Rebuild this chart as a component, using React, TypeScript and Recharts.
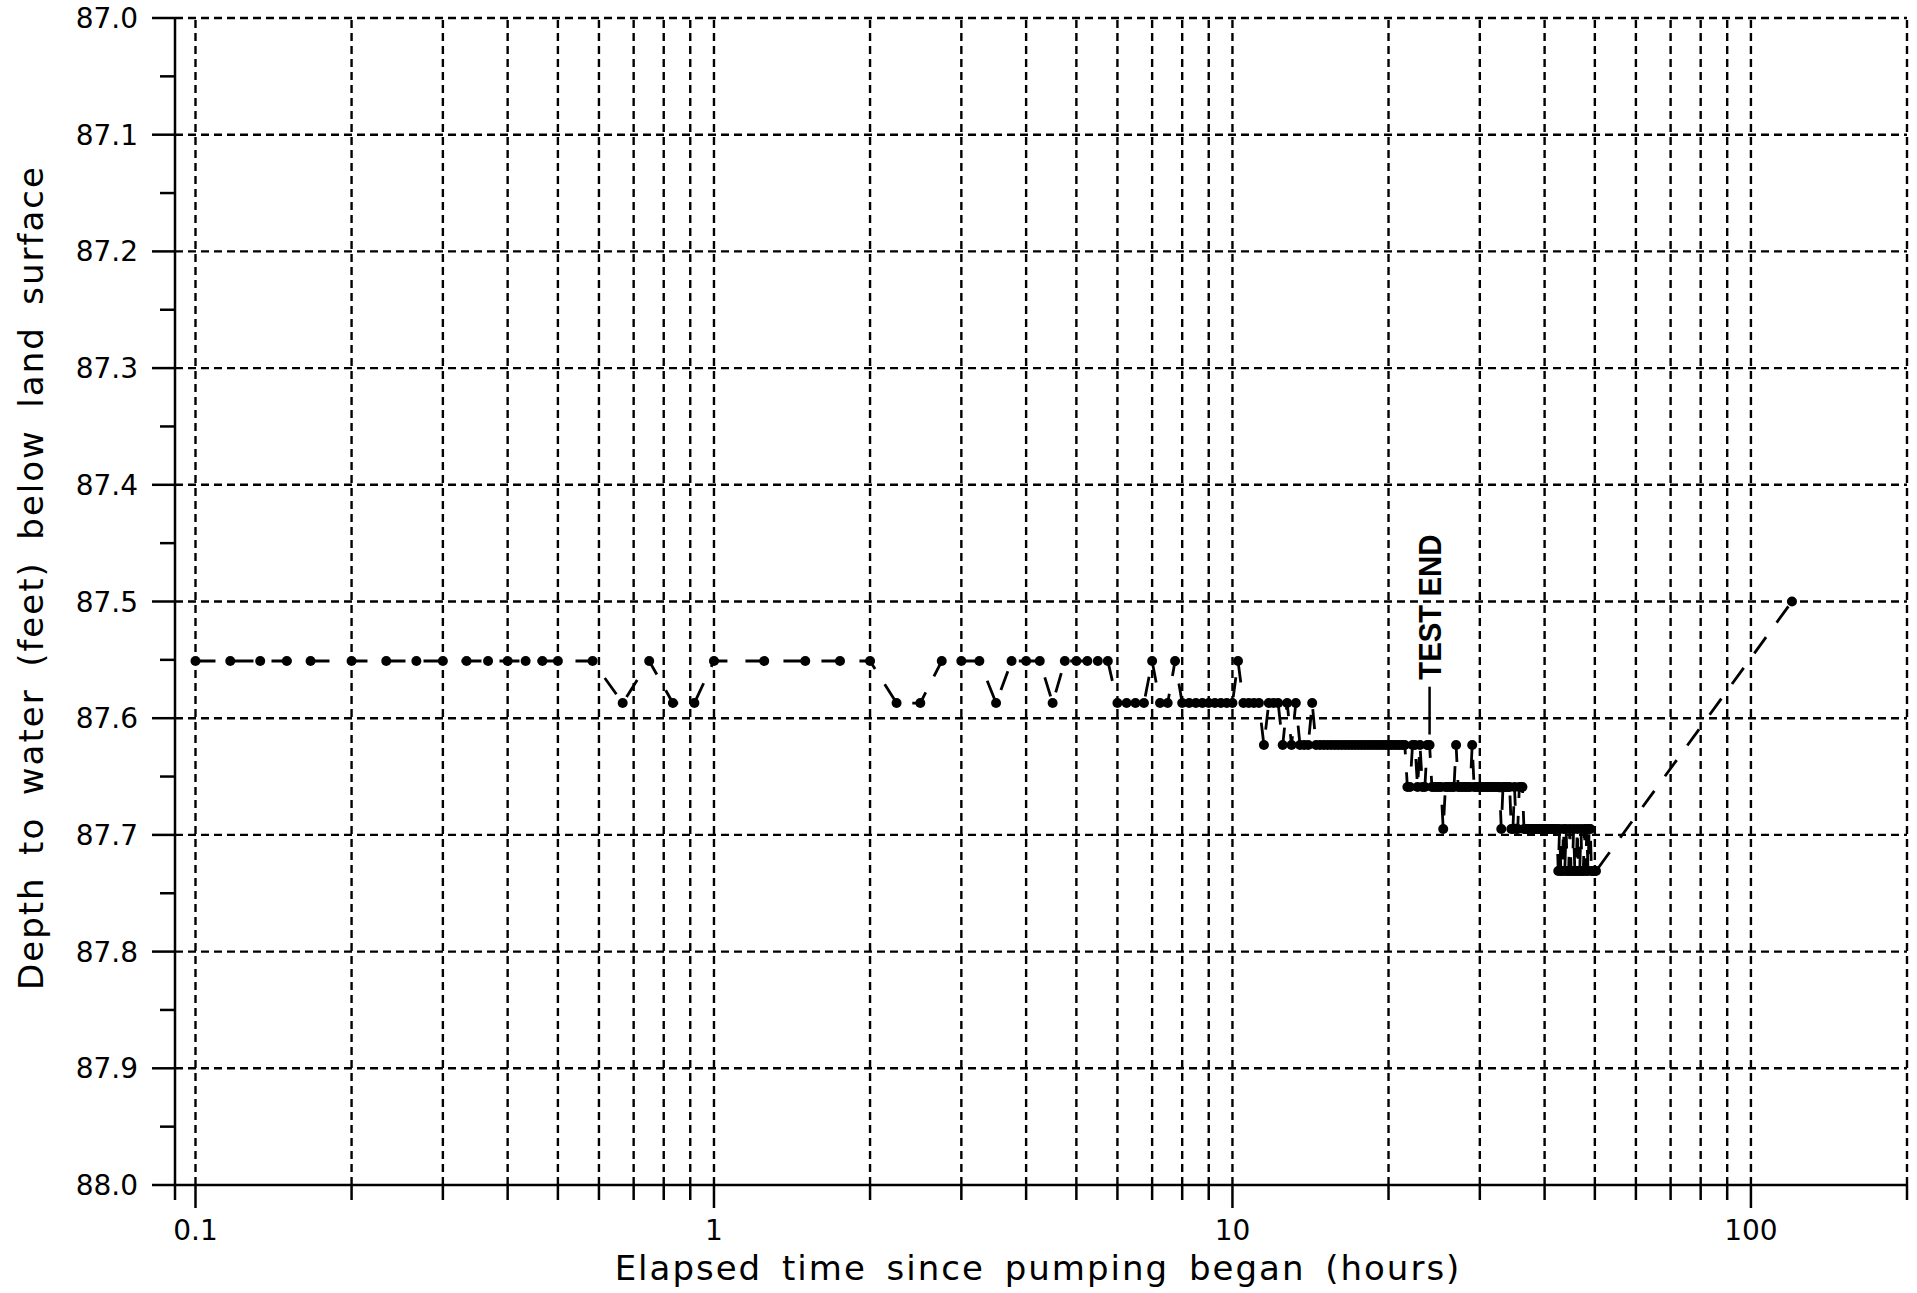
import React from 'react';
import { LineChart, Line, XAxis, YAxis, ReferenceLine, ReferenceDot, Label } from 'recharts';

// ---- data (elapsed hours, depth to water in feet) ----
const hoursEarly = [0.1, 0.1167, 0.1333, 0.15, 0.1667, 0.2, 0.2333, 0.2667, 0.3, 0.3333, 0.3667, 0.4, 0.4333, 0.4667, 0.5, 0.5833, 0.6667, 0.75, 0.8333, 0.9167, 1.0];
const depthEarly = [87.551, 87.551, 87.551, 87.551, 87.551, 87.551, 87.551, 87.551, 87.551, 87.551, 87.551, 87.551, 87.551, 87.551, 87.551, 87.551, 87.587, 87.551, 87.587, 87.587, 87.551];

const hoursMid = [1.25, 1.5, 1.75, 2, 2.25, 2.5, 2.75, 3, 3.25, 3.5, 3.75, 4, 4.25, 4.5, 4.75, 5, 5.25, 5.5, 5.75, 6, 6.25, 6.5, 6.75, 7, 7.25, 7.5, 7.75, 8, 8.25, 8.5, 8.75, 9, 9.25, 9.5, 9.75, 10];
const depthMid = [87.551, 87.551, 87.551, 87.551, 87.587, 87.587, 87.551, 87.551, 87.551, 87.587, 87.551, 87.551, 87.551, 87.587, 87.551, 87.551, 87.551, 87.551, 87.551, 87.587, 87.587, 87.587, 87.587, 87.551, 87.587, 87.587, 87.551, 87.587, 87.587, 87.587, 87.587, 87.587, 87.587, 87.587, 87.587, 87.587];

const hoursLate1 = [10.25, 10.5, 10.75, 11, 11.25, 11.5, 11.75, 12, 12.25, 12.5, 12.75, 13, 13.25, 13.5, 13.75, 14, 14.25, 14.5, 14.75, 15, 15.25, 15.5, 15.75, 16, 16.25, 16.5, 16.75, 17, 17.25, 17.5, 17.75, 18, 18.25, 18.5, 18.75, 19, 19.25, 19.5, 19.75, 20, 20.25, 20.5, 20.75, 21, 21.25, 21.5];
const depthLate1 = [87.551, 87.587, 87.587, 87.587, 87.587, 87.623, 87.587, 87.587, 87.587, 87.623, 87.587, 87.623, 87.587, 87.623, 87.623, 87.623, 87.587,
  87.623, 87.623, 87.623, 87.623, 87.623, 87.623, 87.623, 87.623, 87.623, 87.623, 87.623, 87.623, 87.623, 87.623, 87.623, 87.623, 87.623, 87.623, 87.623, 87.623, 87.623, 87.623, 87.623, 87.623, 87.623, 87.623, 87.623, 87.623, 87.623];

const hoursLate2 = [21.75, 22, 22.25, 22.5, 22.75, 23, 23.25, 23.5, 23.75, 24, 24.25, 24.5, 24.75, 25, 25.25, 25.5, 25.75, 26, 26.25, 26.5, 26.75, 27, 27.25, 27.5, 27.75, 28, 28.25, 28.5, 28.75, 29, 29.25, 29.5, 29.75, 30, 30.25, 30.5, 30.75, 31, 31.25, 31.5, 31.75, 32, 32.25, 32.5, 32.75, 33, 33.25, 33.5, 33.75, 34, 34.25, 34.5, 34.75, 35, 35.25, 35.5, 35.75, 36, 36.25, 36.5];
const depthLate2 = [87.659, 87.659, 87.623, 87.623, 87.659, 87.623, 87.659, 87.659, 87.623, 87.623, 87.659, 87.659, 87.659, 87.659, 87.659, 87.695, 87.659, 87.659, 87.659, 87.659, 87.659, 87.623, 87.659,
  87.659, 87.659, 87.659, 87.659, 87.659, 87.659, 87.623,
  87.659, 87.659, 87.659, 87.659, 87.659, 87.659, 87.659, 87.659, 87.659, 87.659, 87.659, 87.659, 87.659, 87.659, 87.659,
  87.695, 87.659, 87.659, 87.659, 87.659, 87.659, 87.695, 87.695, 87.659, 87.695, 87.695, 87.659, 87.659, 87.659, 87.695];

const hoursLate3 = [36.75, 37, 37.25, 37.5, 37.75, 38, 38.25, 38.5, 38.75, 39, 39.25, 39.5, 39.75, 40, 40.25, 40.5, 40.75, 41, 41.25, 41.5, 41.75, 42, 42.25,
  42.5, 42.75, 43, 43.25, 43.5, 43.75, 44, 44.25, 44.5, 44.75, 45, 45.25, 45.5, 45.75, 46, 46.25, 46.5, 46.75, 47, 47.25, 47.5, 47.75, 48, 48.25, 48.5, 48.75, 49, 49.25, 49.5, 49.75, 50, 50.25];
const depthLate3 = [87.695, 87.695, 87.695, 87.695, 87.695, 87.695, 87.695, 87.695, 87.695, 87.695, 87.695, 87.695, 87.695, 87.695, 87.695, 87.695, 87.695, 87.695, 87.695, 87.695, 87.695, 87.695, 87.695,
  87.731, 87.695, 87.731, 87.731, 87.695, 87.731, 87.695, 87.731, 87.731, 87.695, 87.731, 87.731, 87.695, 87.731, 87.731, 87.695, 87.731, 87.731, 87.695, 87.731, 87.731, 87.695, 87.731, 87.695, 87.731, 87.695, 87.695, 87.731, 87.731, 87.731, 87.731, 87.731];

const hoursRecovery = [120];
const depthRecovery = [87.5];

// ---- axes ----
const xDomain = [0.0913, 200];
const xTicks = [0.0913, 0.1, 0.2, 0.3, 0.4, 0.5, 0.6, 0.7, 0.8, 0.9, 1, 2, 3, 4, 5, 6, 7, 8, 9, 10, 20, 30, 40, 50, 60, 70, 80, 90, 100, 200];
const xLabelTicks = [0.1, 1, 10, 100];
const xGrid = [0.1, 0.2, 0.3, 0.4, 0.5, 0.6, 0.7, 0.8, 0.9, 1, 2, 3, 4, 5, 6, 7, 8, 9, 10, 20, 30, 40, 50, 60, 70, 80, 90, 100, 200];
const yTicks = [87.0, 87.05, 87.1, 87.15, 87.2, 87.25, 87.3, 87.35, 87.4, 87.45, 87.5, 87.55, 87.6, 87.65, 87.7, 87.75, 87.8, 87.85, 87.9, 87.95, 88.0];
const yGrid = [87.0, 87.1, 87.2, 87.3, 87.4, 87.5, 87.6, 87.7, 87.8, 87.9];

const testEndHour = 24;

const allHours = [...hoursEarly, ...hoursMid, ...hoursLate1, ...hoursLate2, ...hoursLate3, ...hoursRecovery];
const allDepth = [...depthEarly, ...depthMid, ...depthLate1, ...depthLate2, ...depthLate3, ...depthRecovery];
const rows = allHours.map((h, i) => ({ hours: h, depth: allDepth[i] }));

const FONT = '"DejaVu Sans", Verdana, sans-serif';
const BOLD_FONT = '"Liberation Sans", Arial, Helvetica, sans-serif';

function XTick(props: any) {
  const { x, y, payload } = props;
  const v = payload.value;
  const major = xLabelTicks.some((t) => Math.abs(t - v) < 1e-9);
  const len = major ? 23 : 15;
  return (
    <g>
      <line x1={x} x2={x} y1={y} y2={y + len} stroke="#000" strokeWidth={2.5} />
      {major && (
        <text x={x} y={y + 55} textAnchor="middle" fontSize={28} fontFamily={FONT} fill="#000">
          {String(v)}
        </text>
      )}
    </g>
  );
}

function YTick(props: any) {
  const { x, y, payload } = props;
  const v = payload.value;
  const major = Math.abs(v * 10 - Math.round(v * 10)) < 1e-6;
  const len = major ? 23 : 15;
  return (
    <g>
      <line x1={x - len} x2={x} y1={y} y2={y} stroke="#000" strokeWidth={2.5} />
      {major && (
        <text x={x - 37} y={y + 10} textAnchor="end" fontSize={28} fontFamily={FONT} fill="#000">
          {v.toFixed(1)}
        </text>
      )}
    </g>
  );
}

const renderDot = (p: any) => <circle key={`d${p.index}`} cx={p.cx} cy={p.cy} r={5} fill="#000" />;

export default function App() {
  return (
    <div style={{ width: 1917, height: 1293, background: '#fff' }}>
      <style>{'html,body{margin:0;padding:0;overflow:hidden;background:#fff}'}</style>
      <LineChart width={1917} height={1293} data={rows} margin={{ top: 18, right: 10, bottom: 48, left: 15 }}>
        {xGrid.map((v) => (
          <ReferenceLine key={`gx${v}`} x={v} stroke="#000" strokeWidth={2.4} strokeDasharray="8 5" />
        ))}
        {yGrid.map((v) => (
          <ReferenceLine key={`gy${v}`} y={v} stroke="#000" strokeWidth={2.4} strokeDasharray="8 5" />
        ))}
        <XAxis
          dataKey="hours"
          type="number"
          scale="log"
          domain={xDomain}
          allowDataOverflow
          ticks={xTicks}
          interval={0}
          tick={<XTick />}
          tickLine={false}
          tickSize={0}
          tickMargin={0}
          height={60}
          axisLine={{ stroke: '#000', strokeWidth: 2.5 }}
        >
          <Label
            content={(p: any) => {
              const vb = p.viewBox || { x: 175, y: 1185, width: 1732, height: 60 };
              return (
                <text x={vb.x + vb.width / 2 - 3} y={vb.y + 95} textAnchor="middle" fontSize={34} fontFamily={FONT} fill="#000" style={{ letterSpacing: '2px', wordSpacing: '7px' }}>
                  Elapsed time since pumping began (hours)
                </text>
              );
            }}
          />
        </XAxis>
        <YAxis
          type="number"
          domain={[87, 88]}
          reversed
          ticks={yTicks}
          interval={0}
          tick={<YTick />}
          tickLine={false}
          tickSize={0}
          tickMargin={0}
          width={160}
          axisLine={{ stroke: '#000', strokeWidth: 2.5 }}
        >
          <Label
            content={(p: any) => {
              const vb = p.viewBox || { x: 15, y: 18, width: 160, height: 1167 };
              const cx = vb.x + 28;
              const cy = vb.y + vb.height / 2 - 24;
              return (
                <text transform={`translate(${cx},${cy}) rotate(-90)`} textAnchor="middle" fontSize={34} fontFamily={FONT} fill="#000" style={{ letterSpacing: '2px', wordSpacing: '8.7px' }}>
                  Depth to water (feet) below land surface
                </text>
              );
            }}
          />
        </YAxis>
        <ReferenceLine
          segment={[{ x: testEndHour, y: 87.573 }, { x: testEndHour, y: 87.614 }]}
          stroke="#000"
          strokeWidth={2.5}
        />
        <ReferenceDot
          x={testEndHour}
          y={87.567}
          r={0}
          shape={(p: any) => (
            <text
              transform={`translate(${p.cx + 11},${p.cy}) rotate(-90)`}
              textAnchor="start"
              fontSize={32}
              fontWeight="bold"
              fontFamily={BOLD_FONT}
              fill="#000"
              textLength={145}
              lengthAdjust="spacingAndGlyphs"
            >
              TEST END
            </text>
          )}
        />
        <Line
          dataKey="depth"
          type="linear"
          stroke="#000"
          strokeWidth={2.8}
          strokeDasharray="20 18"
          dot={renderDot}
          activeDot={false}
          isAnimationActive={false}
        />
      </LineChart>
    </div>
  );
}
